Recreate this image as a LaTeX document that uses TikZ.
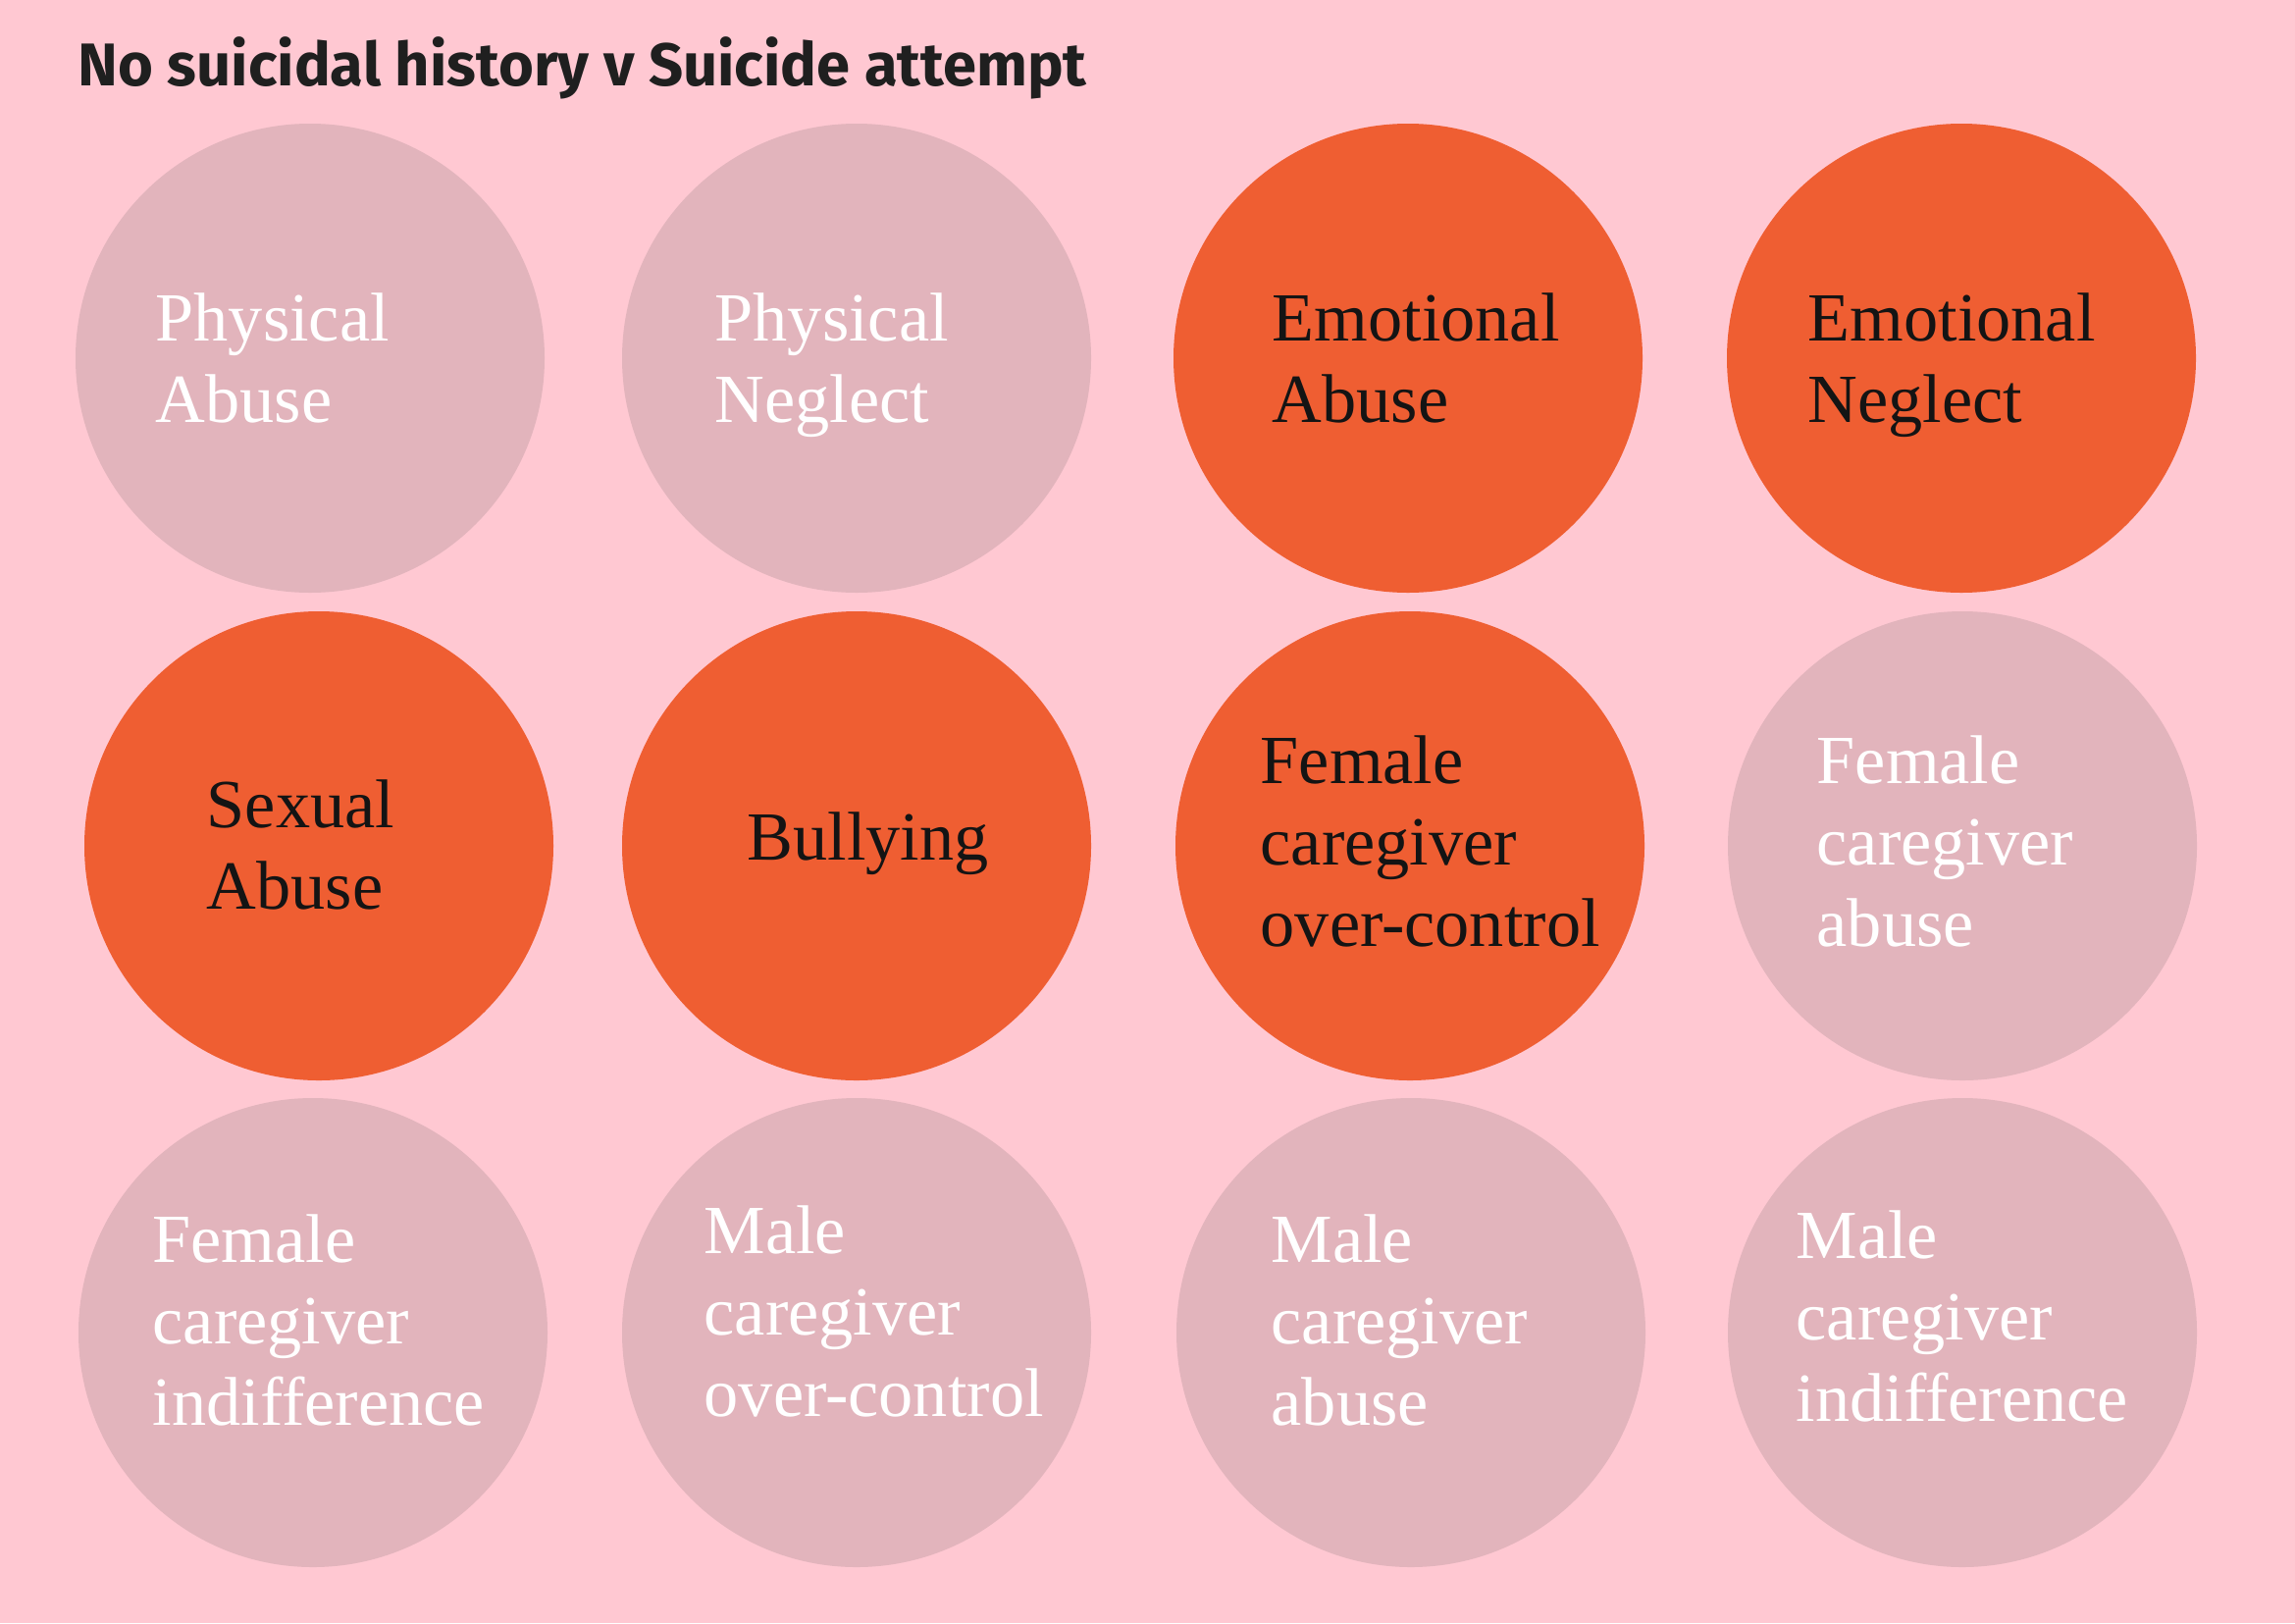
\documentclass[tikz,border=0pt]{standalone}
\usepackage{fontspec}
\setmainfont{Liberation Serif}
\newfontfamily\handfont{Fira Sans}
\usepackage{xcolor}
\usepackage{tikz}
\usetikzlibrary{positioning}

\definecolor{bgpink}{HTML}{FFC8D2}
\definecolor{mutedpink}{HTML}{E2B4BC}
\definecolor{hotorange}{HTML}{EF5E32}

\begin{document}
\begin{tikzpicture}[
  faded/.style={circle,fill=mutedpink,minimum size=4.78cm,inner sep=0pt},
  marked/.style={circle,fill=hotorange,minimum size=4.78cm,inner sep=0pt},
  lbl/.style={anchor=base west,align=left,inner sep=0pt,font=\fontsize{20}{23.6}\selectfont},
  lblw/.style={lbl,text=white},
  lblk/.style={lbl,text=black!92}
]
  \fill[bgpink] (0,0) rectangle (23.39,-16.54);
  \useasboundingbox (0,0) rectangle (23.39,-16.54);

  \node[anchor=base west,inner sep=0pt,font=\handfont\bfseries\fontsize{17.5}{20}\selectfont,text=black!88]
    (title) at (0.79,-0.87) {No suicidal history v Suicide attempt};

  % row 1
  \node[faded]  (physabuse) at (3.16,-3.65) {};
  \node[faded]  (physneg)   at (8.73,-3.65) {};
  \node[marked] (emoabuse)  at (14.35,-3.65) {};
  \node[marked] (emoneg)    at (19.99,-3.65) {};

  % row 2
  \node[marked] (sexabuse)  at (3.25,-8.62) {};
  \node[marked] (bully)     at (8.73,-8.62) {};
  \node[marked] (fcgctrl)   at (14.37,-8.62) {};
  \node[faded]  (fcgabuse)  at (20.00,-8.62) {};

  % row 3
  \node[faded]  (fcgindif)  at (3.19,-13.58) {};
  \node[faded]  (mcgctrl)   at (8.73,-13.58) {};
  \node[faded]  (mcgabuse)  at (14.38,-13.58) {};
  \node[faded]  (mcgindif)  at (20.00,-13.58) {};

  % labels, anchored at the baseline of their last line
  \node[lblw] (physabuse-t) at ([shift={(-1.58,-0.65)}]physabuse.center) {Physical\\Abuse};
  \node[lblw] (physneg-t)   at ([shift={(-1.45,-0.65)}]physneg.center) {Physical\\Neglect};
  \node[lblk] (emoabuse-t)  at ([shift={(-1.39,-0.65)}]emoabuse.center) {Emotional\\Abuse};
  \node[lblk] (emoneg-t)    at ([shift={(-1.57,-0.65)}]emoneg.center) {Emotional\\Neglect};

  \node[lblk] (sexabuse-t)  at ([shift={(-1.15,-0.64)}]sexabuse.center) {Sexual\\Abuse};
  \node[lblk] (bully-t)     at ([shift={(-1.12,-0.14)}]bully.center) {Bullying};
  \node[lblk] (fcgctrl-t)   at ([shift={(-1.53,-1.02)}]fcgctrl.center) {Female\\caregiver\\over-control};
  \node[lblw] (fcgabuse-t)  at ([shift={(-1.49,-1.02)}]fcgabuse.center) {Female\\caregiver\\abuse};

  \node[lblw] (fcgindif-t)  at ([shift={(-1.64,-0.94)}]fcgindif.center) {Female\\caregiver\\indifference};
  \node[lblw] (mcgctrl-t)   at ([shift={(-1.56,-0.85)}]mcgctrl.center) {Male\\caregiver\\over-control};
  \node[lblw] (mcgabuse-t)  at ([shift={(-1.43,-0.94)}]mcgabuse.center) {Male\\caregiver\\abuse};
  \node[lblw] (mcgindif-t)  at ([shift={(-1.70,-0.90)}]mcgindif.center) {Male\\caregiver\\indifference};
\end{tikzpicture}
\end{document}
